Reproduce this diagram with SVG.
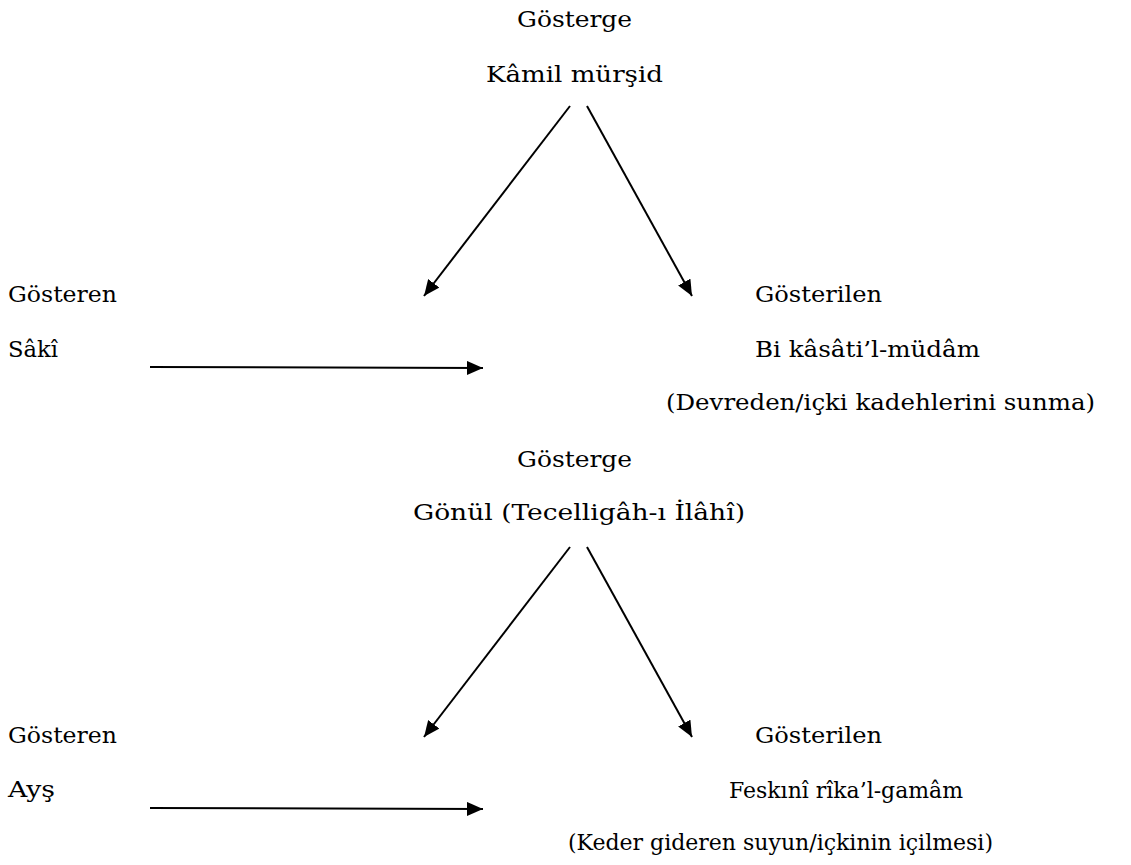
<svg xmlns="http://www.w3.org/2000/svg" width="1131" height="865" viewBox="0 0 1131 865">
<defs>
<style>
text{font-family:"DejaVu Serif","Liberation Serif",serif;font-size:23px;fill:#000}
.c{stroke:#000;stroke-width:2;fill:none}
</style>
<marker id="ah" viewBox="0 0 16 14" refX="16" refY="7" markerWidth="16" markerHeight="14" markerUnits="userSpaceOnUse" orient="auto">
<path d="M0,0 L16,7 L0,14 Z" fill="#000"/>
</marker>
</defs>
<rect width="1131" height="865" fill="#fff"/>
<g id="gosterge1"><text x="517" y="27" textLength="115" lengthAdjust="spacingAndGlyphs">Gösterge</text><text x="486" y="82" textLength="177" lengthAdjust="spacingAndGlyphs">Kâmil mürşid</text></g>
<g id="gosteren1"><text x="8" y="302" textLength="109" lengthAdjust="spacingAndGlyphs">Gösteren</text><text x="8" y="357" textLength="50" lengthAdjust="spacingAndGlyphs">Sâkî</text></g>
<g id="gosterilen1"><text x="755" y="302" textLength="127" lengthAdjust="spacingAndGlyphs">Gösterilen</text><text x="755" y="357" textLength="225" lengthAdjust="spacingAndGlyphs">Bi kâsâti’l-müdâm</text><text x="666" y="410" textLength="429" lengthAdjust="spacingAndGlyphs">(Devreden/içki kadehlerini sunma)</text></g>
<g id="gosterge2"><text x="517" y="467" textLength="115" lengthAdjust="spacingAndGlyphs">Gösterge</text><text x="413" y="520" textLength="332" lengthAdjust="spacingAndGlyphs">Gönül (Tecelligâh-ı İlâhî)</text></g>
<g id="gosteren2"><text x="8" y="743" textLength="109" lengthAdjust="spacingAndGlyphs">Gösteren</text><text x="8" y="797" textLength="47" lengthAdjust="spacingAndGlyphs">Ayş</text></g>
<g id="gosterilen2"><text x="755" y="743" textLength="127" lengthAdjust="spacingAndGlyphs">Gösterilen</text><text x="729" y="798" textLength="234" lengthAdjust="spacingAndGlyphs">Feskınî rîka’l-gamâm</text><text x="568" y="850" textLength="425" lengthAdjust="spacingAndGlyphs">(Keder gideren suyun/içkinin içilmesi)</text></g>
<g id="connectors">
<line class="c" x1="570" y1="106" x2="424" y2="296" marker-end="url(#ah)"/>
<line class="c" x1="587" y1="106" x2="692" y2="296" marker-end="url(#ah)"/>
<line class="c" x1="150" y1="367" x2="483" y2="368" marker-end="url(#ah)"/>
<line class="c" x1="570" y1="547" x2="424" y2="737" marker-end="url(#ah)"/>
<line class="c" x1="587" y1="547" x2="692" y2="737" marker-end="url(#ah)"/>
<line class="c" x1="150" y1="808" x2="483" y2="809" marker-end="url(#ah)"/>
</g>
</svg>
